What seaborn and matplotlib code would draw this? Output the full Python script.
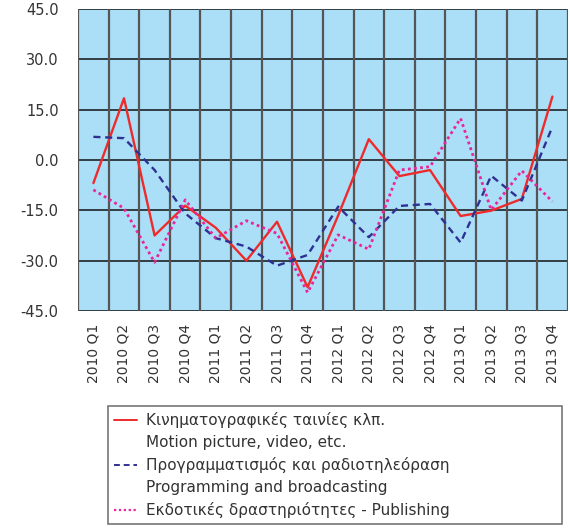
import numpy as np
import pandas as pd
import matplotlib
matplotlib.use("Agg")
import matplotlib.pyplot as plt
import seaborn as sns
from matplotlib.lines import Line2D

quarters = ["2010 Q1", "2010 Q2", "2010 Q3", "2010 Q4",
            "2011 Q1", "2011 Q2", "2011 Q3", "2011 Q4",
            "2012 Q1", "2012 Q2", "2012 Q3", "2012 Q4",
            "2013 Q1", "2013 Q2", "2013 Q3", "2013 Q4"]

motion_picture = [-6.9, 18.4, -22.5, -13.6, -20.2, -30.0, -18.4, -37.9,
                  -16.5, 6.2, -4.8, -3.0, -16.7, -15.1, -11.6, 18.9]
broadcasting = [6.9, 6.5, -3.0, -15.9, -23.3, -25.8, -31.5, -28.3,
                -13.9, -23.0, -13.7, -13.1, -24.6, -4.7, -12.1, 9.9]
publishing = [-8.9, -14.4, -30.5, -11.9, -23.3, -18.1, -21.9, -39.5,
              -22.3, -26.6, -3.0, -2.0, 12.4, -14.9, -3.2, -12.4]

series_names = ["motion", "broadcast", "publishing"]
legend_lines = ["Κινηματογραφικές ταινίες κλπ.",
                "Motion picture, video, etc.",
                "Προγραμματισμός και ραδιοτηλεόραση",
                "Programming and broadcasting",
                "Εκδοτικές δραστηριότητες - Publishing"]
y_ticks = [-45, -30, -15, 0, 15, 30, 45]

x = np.arange(len(quarters))
df = pd.DataFrame({
    "x": np.tile(x, 3),
    "value": motion_picture + broadcasting + publishing,
    "series": np.repeat(series_names, len(quarters)),
})

sns.set_style("white")
plt.rcParams["font.family"] = ["DejaVu Sans"]

colors = {"motion": "#ee2b2b", "broadcast": "#2e3192", "publishing": "#e8259a"}
dashes = {"motion": "", "broadcast": (3, 2), "publishing": (1, 1.2)}
widths = {"motion": 1.7, "broadcast": 1.7, "publishing": 2.0}

fig = plt.figure(figsize=(5.7, 5.28), dpi=100)
ax = fig.add_axes([0.137, 0.411, 0.859, 0.572])
ax.set_facecolor("#abdff8")

sns.lineplot(data=df, x="x", y="value", hue="series", style="series",
             palette=colors, dashes=dashes, ax=ax, legend=False, zorder=3)
for line, name in zip(ax.get_lines(), series_names):
    line.set_linewidth(widths[name])

ax.set_xlim(-0.5, len(quarters) - 0.5)
ax.set_ylim(-45, 45)
ax.set_yticks(y_ticks)
ax.set_yticklabels([f"{v:.1f}" for v in y_ticks], fontsize=10.5, color="#333333")
ax.set_xticks(x)
ax.set_xticklabels(quarters, rotation=90, fontsize=10, color="#333333")
ax.tick_params(axis="x", length=0, pad=9)
ax.tick_params(axis="y", length=11, width=1.1, color="#222222", pad=3)
ax.set_xlabel("")
ax.set_ylabel("")

for v in y_ticks:
    ax.axhline(v, color="#111111", lw=1.1, zorder=1)
for b in np.arange(-0.5, len(quarters), 1.0):
    ax.axvline(b, color="#555555", lw=1.6, zorder=1)
for s in ax.spines.values():
    s.set_visible(False)

handles = [
    Line2D([], [], color=colors["motion"], lw=1.4),
    Line2D([], [], color="none"),
    Line2D([], [], color=colors["broadcast"], lw=1.4, dashes=(3, 2)),
    Line2D([], [], color="none"),
    Line2D([], [], color=colors["publishing"], lw=1.6, dashes=(1, 1.2)),
]
leg = fig.legend(handles, legend_lines, loc="upper left",
                 bbox_to_anchor=(108 / 570, 0.0, 454 / 570, 1 - 406 / 528),
                 bbox_transform=fig.transFigure, mode="expand",
                 fontsize=11, frameon=True, fancybox=False,
                 edgecolor="#555555", handlelength=1.5, handletextpad=0.6,
                 labelspacing=0.46, borderpad=0.4, borderaxespad=0)
leg.get_frame().set_linewidth(1.2)
for t in leg.get_texts():
    t.set_color("#333333")

fig.savefig("out.png", dpi=100)
